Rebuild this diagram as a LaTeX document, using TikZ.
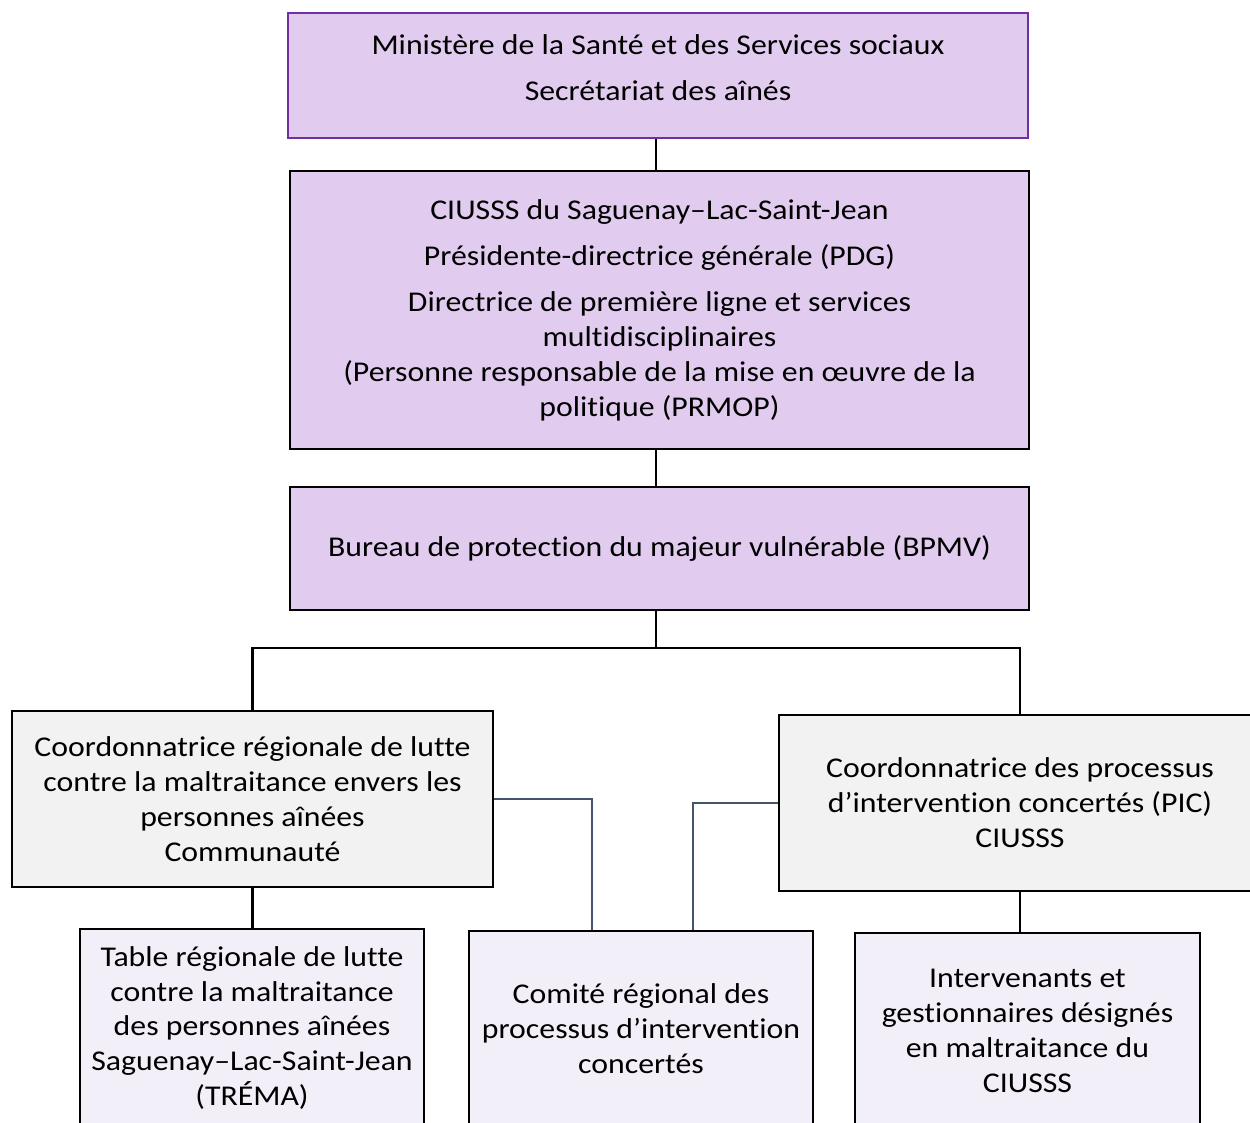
\documentclass[tikz,border=0pt]{standalone}
\usepackage{fontspec}
\setmainfont{Carlito}[FakeStretch=1.11, Ligatures=NoCommon]
\usepackage{tikz}
\usetikzlibrary{positioning}
\definecolor{mauve}{HTML}{E1CBEF}
\definecolor{mauveline}{HTML}{7030A0}
\definecolor{paleMauve}{HTML}{F3EFF9}
\definecolor{paleGray}{HTML}{F2F2F2}
\definecolor{slate}{HTML}{44546A}

\begin{document}
\begin{tikzpicture}[x=0.02cm, y=-0.02cm,
    box/.style={rectangle, draw, line width=1.6pt, inner sep=0pt, align=center, text=black,
      font=\fontsize{16.3}{19.9}\selectfont},
    purplebox/.style={box, fill=mauve},
    graybox/.style={box, fill=paleGray},
    lightbox/.style={box, fill=paleMauve},
    link/.style={draw, line width=1.4pt, black},
    sidelink/.style={draw, line width=1.2pt, slate}]
			\useasboundingbox (0,0) rectangle (1250,1122);
			% top of the chart
			\node [purplebox, draw=mauveline, minimum width=14.8cm, minimum height=2.5cm] (ministere) at (658,75.5)
			{\begin{tabular}{@{}c@{}}Ministère de la Santé et des Services sociaux\\[0.22cm] Secrétariat des aînés\\[0.2cm]\end{tabular}};
			\node [purplebox, minimum width=14.78cm, minimum height=5.56cm] (ciusss) at (659.5,310)
			{CIUSSS du Saguenay–Lac-Saint-Jean\\[0.22cm] Présidente-directrice générale (PDG)\\[0.22cm]
			 Directrice de première ligne et services\\ multidisciplinaires\\ (Personne responsable de la mise en œuvre de la\\ politique (PRMOP)};
			\node [purplebox, minimum width=14.78cm, minimum height=2.46cm] (bpmv) at (659.5,548.5)
			{Bureau de protection du majeur vulnérable (BPMV)};
			% coordinatrices
			\node [graybox, minimum width=9.62cm, minimum height=3.52cm] (coordL) at (252.5,799)
			{Coordonnatrice régionale de lutte\\ contre la maltraitance envers les\\ personnes aînées\\ Communauté};
			\node [graybox, minimum width=9.64cm, minimum height=3.52cm] (coordR) at (1020,803)
			{Coordonnatrice des processus\\ d’intervention concertés (PIC)\\ CIUSSS};
			% bottom row
			\node [lightbox, minimum width=6.88cm, minimum height=3.96cm] (trema) at (252,1028)
			{Table régionale de lutte\\ contre la maltraitance\\ des personnes aînées\\ Saguenay–Lac-Saint-Jean\\ (TRÉMA)};
			\node [lightbox, minimum width=6.88cm, minimum height=3.92cm] (comite) at (641,1029)
			{Comité régional des\\ processus d’intervention\\ concertés};
			\node [lightbox, minimum width=6.9cm, minimum height=3.92cm] (interv) at (1027.5,1031)
			{Intervenants et\\ gestionnaires désignés\\ en maltraitance du\\ CIUSSS};
			\coordinate (split) at (656,648);
			% links
			\path [link] (split |- ministere.south) -- (split |- ciusss.north);
			\path [link] (split |- ciusss.south) -- (split |- bpmv.north);
			\path [link] (split |- bpmv.south) -- (split);
			\path [link] (coordL.north) |- (split) -| (coordR.north);
			\path [link] (coordL.south) -- (coordL.south |- trema.north);
			\path [link] (coordR.south) -- (coordR.south |- interv.north);
			\path [sidelink] (coordL.east) -| ([xshift=-0.98cm]comite.north);
			\path [sidelink] (coordR.west) -| ([xshift=1.04cm]comite.north);
		\end{tikzpicture}
\end{document}
